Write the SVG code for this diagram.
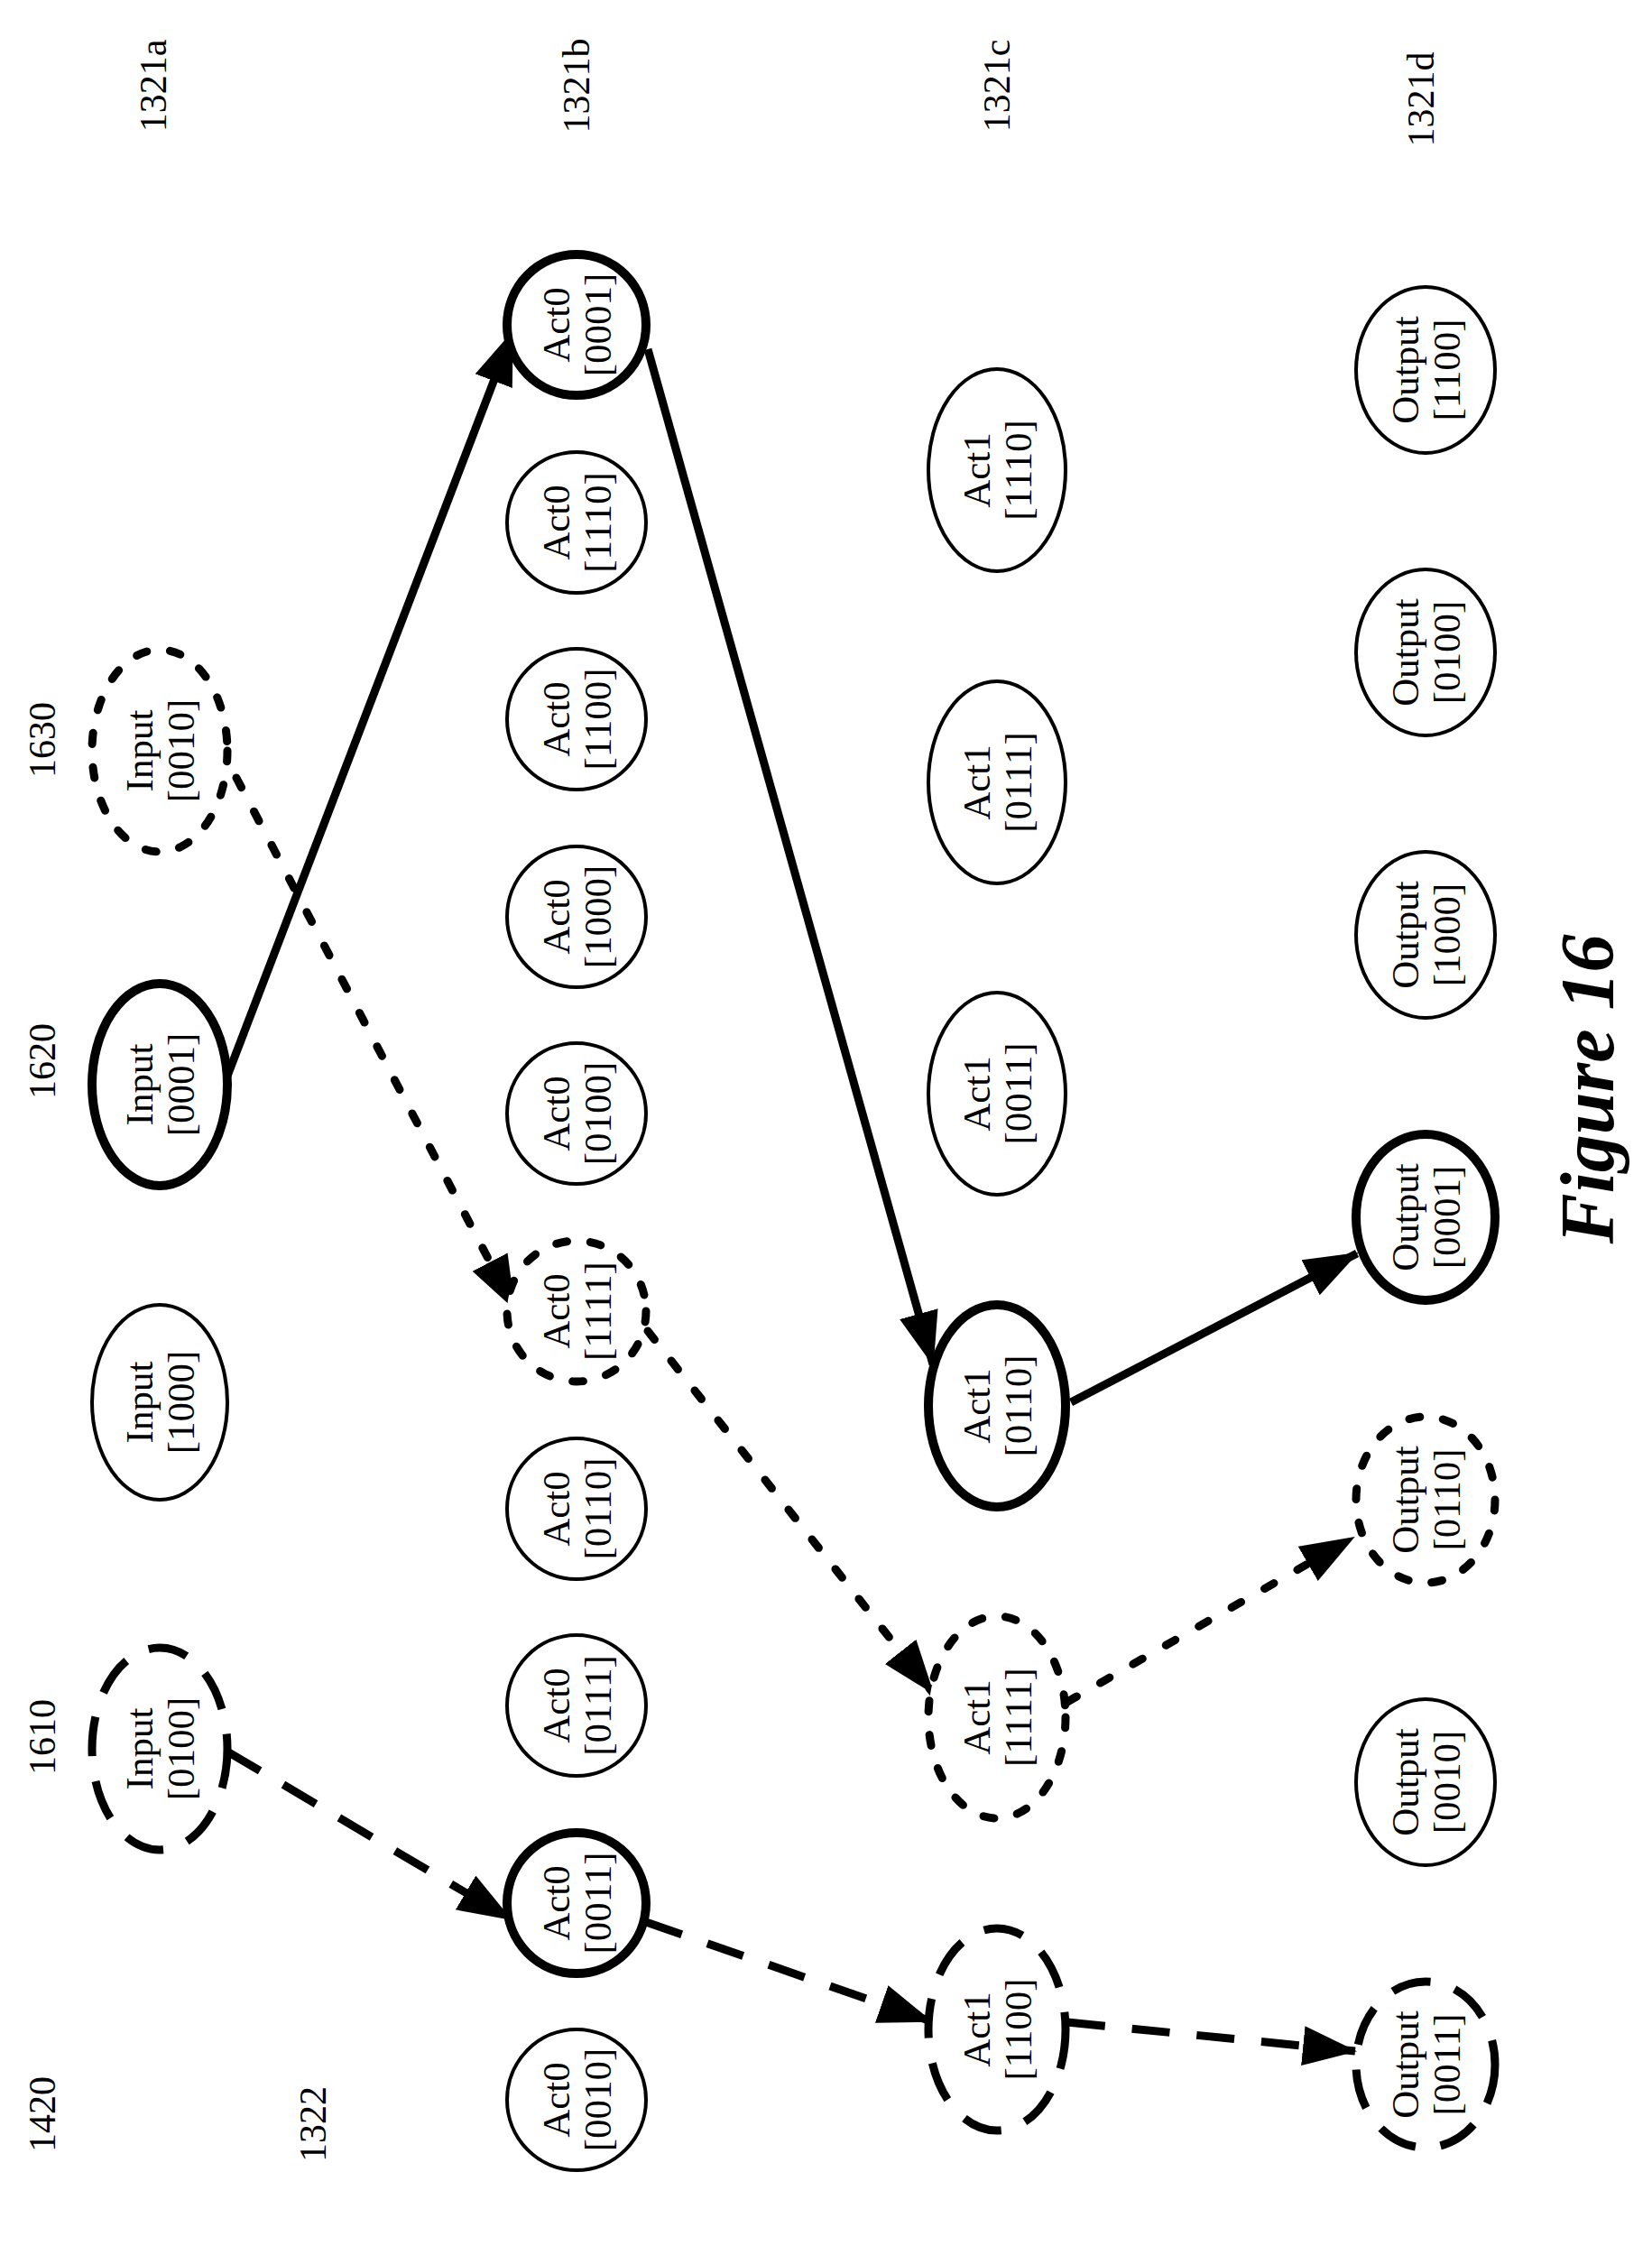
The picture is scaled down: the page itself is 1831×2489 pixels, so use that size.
<svg xmlns="http://www.w3.org/2000/svg" width="1831" height="2489" viewBox="0 0 1831 2489">
<style>
text{font-family:"Liberation Serif","Times New Roman",serif;fill:#000}
.t{font-size:43px;text-anchor:middle}
.lbl{font-size:42px;text-anchor:middle}
ellipse{fill:#fff;stroke:#000}
.n{stroke-width:4}
.k{stroke-width:10}
.da{stroke-width:9;stroke-dasharray:44 28}
.do{stroke-width:9;stroke-dasharray:12 26;stroke-linecap:round}
.e{fill:none;stroke:#000;stroke-width:9}
.eda{stroke-dasharray:42 30}
.edo{stroke-dasharray:12 30;stroke-linecap:round}
</style>
<defs>
<marker id="a" markerUnits="userSpaceOnUse" markerWidth="62" markerHeight="48" refX="58" refY="22" orient="auto">
<path d="M0,0 L60,22 L0,44 Z" fill="#000"/>
</marker>
</defs>
<g id="labels">
<text class="lbl" transform="translate(170,95) rotate(-90)" dy="14">1321a</text>
<text class="lbl" transform="translate(639,95) rotate(-90)" dy="14">1321b</text>
<text class="lbl" transform="translate(1105,95) rotate(-90)" dy="14">1321c</text>
<text class="lbl" transform="translate(1575,110) rotate(-90)" dy="14">1321d</text>
<text class="lbl" transform="translate(47,820) rotate(-90)" dy="14">1630</text>
<text class="lbl" transform="translate(47,1176) rotate(-90)" dy="14">1620</text>
<text class="lbl" transform="translate(47,1925) rotate(-90)" dy="14">1610</text>
<text class="lbl" transform="translate(47,2343) rotate(-90)" dy="14">1420</text>
<text class="lbl" transform="translate(347,2354) rotate(-90)" dy="14">1322</text>
<text transform="translate(1760,1207) rotate(-90)" text-anchor="middle" dy="28" style="font-size:84px;font-weight:bold;font-style:italic">Figure 16</text>
</g>
<g id="connectors">
<line class="e" x1="251" y1="1195" x2="568" y2="368" marker-end="url(#a)"/>
<line class="e" x1="718" y1="387" x2="1034" y2="1512" marker-end="url(#a)"/>
<line class="e" x1="1187" y1="1554" x2="1504" y2="1389" marker-end="url(#a)"/>
<line class="e edo" x1="262" y1="862" x2="570" y2="1450" marker-end="url(#a)"/>
<line class="e edo" x1="718" y1="1475" x2="1034" y2="1876" marker-end="url(#a)"/>
<line class="e edo" x1="1183" y1="1886" x2="1500" y2="1704" marker-end="url(#a)"/>
<line class="e eda" x1="252" y1="1941" x2="566" y2="2127" marker-end="url(#a)"/>
<line class="e eda" x1="716" y1="2130" x2="1032" y2="2240" marker-end="url(#a)"/>
<line class="e eda" x1="1183" y1="2241" x2="1502" y2="2273" marker-end="url(#a)"/>
</g>
<g id="n-in0010"><ellipse class="do" cx="177" cy="832" rx="75" ry="112"/><text class="t" transform="translate(177,832) rotate(-90)"><tspan x="0" y="-8">Input</tspan><tspan x="0" y="38">[0010]</tspan></text></g>
<g id="n-in0001"><ellipse class="k" cx="177" cy="1202" rx="75" ry="112"/><text class="t" transform="translate(177,1202) rotate(-90)"><tspan x="0" y="-8">Input</tspan><tspan x="0" y="38">[0001]</tspan></text></g>
<g id="n-in1000"><ellipse class="n" cx="177" cy="1554" rx="75" ry="108"/><text class="t" transform="translate(177,1554) rotate(-90)"><tspan x="0" y="-8">Input</tspan><tspan x="0" y="38">[1000]</tspan></text></g>
<g id="n-in0100"><ellipse class="da" cx="177" cy="1938" rx="75" ry="112"/><text class="t" transform="translate(177,1938) rotate(-90)"><tspan x="0" y="-8">Input</tspan><tspan x="0" y="38">[0100]</tspan></text></g>

<g id="n-a0-0001"><ellipse class="k" cx="639" cy="360" rx="77" ry="78"/><text class="t" transform="translate(639,360) rotate(-90)"><tspan x="0" y="-8">Act0</tspan><tspan x="0" y="38">[0001]</tspan></text></g>
<g id="n-a0-1110"><ellipse class="n" cx="639" cy="579" rx="77" ry="78"/><text class="t" transform="translate(639,579) rotate(-90)"><tspan x="0" y="-8">Act0</tspan><tspan x="0" y="38">[1110]</tspan></text></g>
<g id="n-a0-1100"><ellipse class="n" cx="639" cy="797" rx="77" ry="78"/><text class="t" transform="translate(639,797) rotate(-90)"><tspan x="0" y="-8">Act0</tspan><tspan x="0" y="38">[1100]</tspan></text></g>
<g id="n-a0-1000"><ellipse class="n" cx="639" cy="1016" rx="77" ry="78"/><text class="t" transform="translate(639,1016) rotate(-90)"><tspan x="0" y="-8">Act0</tspan><tspan x="0" y="38">[1000]</tspan></text></g>
<g id="n-a0-0100"><ellipse class="n" cx="639" cy="1234" rx="77" ry="78"/><text class="t" transform="translate(639,1234) rotate(-90)"><tspan x="0" y="-8">Act0</tspan><tspan x="0" y="38">[0100]</tspan></text></g>
<g id="n-a0-1111"><ellipse class="do" cx="639" cy="1453" rx="77" ry="78"/><text class="t" transform="translate(639,1453) rotate(-90)"><tspan x="0" y="-8">Act0</tspan><tspan x="0" y="38">[1111]</tspan></text></g>
<g id="n-a0-0110"><ellipse class="n" cx="639" cy="1672" rx="77" ry="78"/><text class="t" transform="translate(639,1672) rotate(-90)"><tspan x="0" y="-8">Act0</tspan><tspan x="0" y="38">[0110]</tspan></text></g>
<g id="n-a0-0111"><ellipse class="n" cx="639" cy="1890" rx="77" ry="78"/><text class="t" transform="translate(639,1890) rotate(-90)"><tspan x="0" y="-8">Act0</tspan><tspan x="0" y="38">[0111]</tspan></text></g>
<g id="n-a0-0011"><ellipse class="k" cx="639" cy="2109" rx="77" ry="78"/><text class="t" transform="translate(639,2109) rotate(-90)"><tspan x="0" y="-8">Act0</tspan><tspan x="0" y="38">[0011]</tspan></text></g>
<g id="n-a0-0010"><ellipse class="n" cx="639" cy="2327" rx="77" ry="78"/><text class="t" transform="translate(639,2327) rotate(-90)"><tspan x="0" y="-8">Act0</tspan><tspan x="0" y="38">[0010]</tspan></text></g>

<g id="n-a1-1110"><ellipse class="n" cx="1105" cy="521" rx="76" ry="112"/><text class="t" transform="translate(1105,521) rotate(-90)"><tspan x="0" y="-8">Act1</tspan><tspan x="0" y="38">[1110]</tspan></text></g>
<g id="n-a1-0111"><ellipse class="n" cx="1105" cy="867" rx="76" ry="112"/><text class="t" transform="translate(1105,867) rotate(-90)"><tspan x="0" y="-8">Act1</tspan><tspan x="0" y="38">[0111]</tspan></text></g>
<g id="n-a1-0011"><ellipse class="n" cx="1105" cy="1212" rx="76" ry="112"/><text class="t" transform="translate(1105,1212) rotate(-90)"><tspan x="0" y="-8">Act1</tspan><tspan x="0" y="38">[0011]</tspan></text></g>
<g id="n-a1-0110"><ellipse class="k" cx="1105" cy="1558" rx="76" ry="112"/><text class="t" transform="translate(1105,1558) rotate(-90)"><tspan x="0" y="-8">Act1</tspan><tspan x="0" y="38">[0110]</tspan></text></g>
<g id="n-a1-1111"><ellipse class="do" cx="1105" cy="1903" rx="76" ry="112"/><text class="t" transform="translate(1105,1903) rotate(-90)"><tspan x="0" y="-8">Act1</tspan><tspan x="0" y="38">[1111]</tspan></text></g>
<g id="n-a1-1100"><ellipse class="da" cx="1105" cy="2249" rx="76" ry="112"/><text class="t" transform="translate(1105,2249) rotate(-90)"><tspan x="0" y="-8">Act1</tspan><tspan x="0" y="38">[1100]</tspan></text></g>

<g id="n-o-1100"><ellipse class="n" cx="1580" cy="410" rx="77" ry="92"/><text class="t" transform="translate(1580,410) rotate(-90)"><tspan x="0" y="-8">Output</tspan><tspan x="0" y="38">[1100]</tspan></text></g>
<g id="n-o-0100"><ellipse class="n" cx="1580" cy="723" rx="77" ry="92"/><text class="t" transform="translate(1580,723) rotate(-90)"><tspan x="0" y="-8">Output</tspan><tspan x="0" y="38">[0100]</tspan></text></g>
<g id="n-o-1000"><ellipse class="n" cx="1580" cy="1036" rx="77" ry="92"/><text class="t" transform="translate(1580,1036) rotate(-90)"><tspan x="0" y="-8">Output</tspan><tspan x="0" y="38">[1000]</tspan></text></g>
<g id="n-o-0001"><ellipse class="k" cx="1580" cy="1349" rx="77" ry="92"/><text class="t" transform="translate(1580,1349) rotate(-90)"><tspan x="0" y="-8">Output</tspan><tspan x="0" y="38">[0001]</tspan></text></g>
<g id="n-o-0110"><ellipse class="do" cx="1580" cy="1662" rx="77" ry="92"/><text class="t" transform="translate(1580,1662) rotate(-90)"><tspan x="0" y="-8">Output</tspan><tspan x="0" y="38">[0110]</tspan></text></g>
<g id="n-o-0010"><ellipse class="n" cx="1580" cy="1975" rx="77" ry="92"/><text class="t" transform="translate(1580,1975) rotate(-90)"><tspan x="0" y="-8">Output</tspan><tspan x="0" y="38">[0010]</tspan></text></g>
<g id="n-o-0011"><ellipse class="da" cx="1580" cy="2288" rx="77" ry="92"/><text class="t" transform="translate(1580,2288) rotate(-90)"><tspan x="0" y="-8">Output</tspan><tspan x="0" y="38">[0011]</tspan></text></g>
</svg>
